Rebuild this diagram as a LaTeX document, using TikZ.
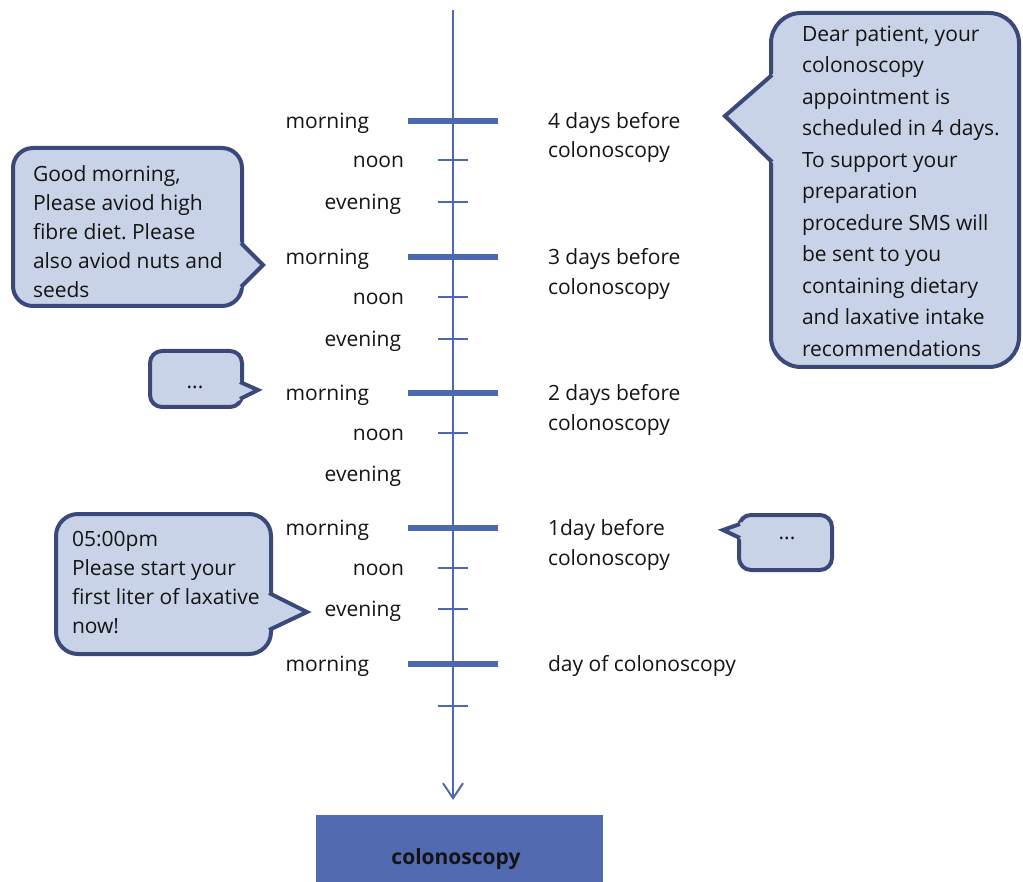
\documentclass[tikz,border=0pt]{standalone}
\usepackage{fontspec}
\setmainfont{Open Sans}
\usetikzlibrary{arrows.meta}
\definecolor{tlblue}{RGB}{76,104,174}
\definecolor{bfill}{RGB}{201,211,232}
\definecolor{bline}{RGB}{58,73,122}
\definecolor{boxblue}{RGB}{82,106,175}
\definecolor{txt}{RGB}{20,20,20}
\frenchspacing
\begin{document}
\begin{tikzpicture}[x=1pt,y=-1pt,
  every node/.style={inner sep=0pt, outer sep=0pt, text=txt, font=\fontsize{21}{29}\selectfont},
  tlline/.style={draw=tlblue, line width=2pt},
  majortick/.style={draw=tlblue, line width=6pt},
  minortick/.style={draw=tlblue, line width=2pt},
  lefttxt/.style={anchor=mid east, yshift=-5pt},
  righttxt/.style={anchor=mid west, yshift=-5pt},
  bubble/.style={draw=bline, fill=bfill, line width=4pt, anchor=north west},
  ptrfill/.style={fill=bfill},
  ptrline/.style={draw=bline, line width=4pt, line join=miter},
  msg/.style={anchor=north west, align=left},
]
\useasboundingbox (0,0) rectangle (1023,882);

% time line
\coordinate (top) at (453,10);
\coordinate (end) at (453,800);
\draw[tlline, -{Straight Barb[length=15pt, width=20pt, line width=2pt]}] (top) -- (end);

% major ticks
\foreach \y/\n in {121/a,257/b,393/c,528/d,664/e}{
  \coordinate (M\n l) at (408,\y);
  \coordinate (M\n r) at (498,\y);
  \draw[majortick] (M\n l) -- (M\n r);
}
% minor ticks
\foreach \y/\n in {160/a,202/b,297/c,339/d,433/e,568/f,609/g,706/h}{
  \coordinate (m\n l) at (438,\y);
  \coordinate (m\n r) at (468,\y);
  \draw[minortick] (m\n l) -- (m\n r);
}

% left labels
\node[lefttxt] (mo1) at (369,121) {morning};
\node[lefttxt] (no1) at (404,160) {noon};
\node[lefttxt] (ev1) at (401,202) {evening};
\node[lefttxt] (mo2) at (369,257) {morning};
\node[lefttxt] (no2) at (404,297) {noon};
\node[lefttxt] (ev2) at (401,339) {evening};
\node[lefttxt] (mo3) at (369,393) {morning};
\node[lefttxt] (no3) at (404,433) {noon};
\node[lefttxt] (ev3) at (401,474) {evening};
\node[lefttxt] (mo4) at (369,528) {morning};
\node[lefttxt] (no4) at (404,568) {noon};
\node[lefttxt] (ev4) at (401,609) {evening};
\node[lefttxt] (mo5) at (369,664) {morning};

% right labels
\node[righttxt] (d4a) at (548,121) {4 days before};
\node[righttxt] (d4b) at (548,150) {colonoscopy};
\node[righttxt] (d3a) at (548,257) {3 days before};
\node[righttxt] (d3b) at (548,287) {colonoscopy};
\node[righttxt] (d2a) at (548,393) {2 days before};
\node[righttxt] (d2b) at (548,423) {colonoscopy};
\node[righttxt] (d1a) at (548,528) {1day before};
\node[righttxt] (d1b) at (548,558) {colonoscopy};
\node[righttxt] (d0) at (548,664) {day of colonoscopy};

% bubble 1 (left, good morning)
\node[bubble, rounded corners=20pt, minimum width=229pt, minimum height=158pt] (bub1) at (13,148) {};
\fill[ptrfill] (239,241) -- (263,265) -- (239,289) -- cycle;
\draw[ptrline] (241,243) -- (263,265) -- (241,287);
\node[msg] (t1) at (33,166) {Good morning,\\Please aviod high\\fibre diet. Please\\also aviod nuts and\\seeds};

% big bubble (right)
\node[bubble, rounded corners=30pt, minimum width=248pt, minimum height=354pt] (bub2) at (771,13) {};
\fill[ptrfill] (774,73) -- (725,116) -- (774,164) -- cycle;
\draw[ptrline] (772,75) -- (725,116) -- (772,162);
\node[msg, font=\fontsize{21}{31.5}\selectfont] (t2) at (802,26) {Dear patient, your\\colonoscopy\\appointment is\\scheduled in 4 days.\\To support your\\preparation\\procedure SMS will\\be sent to you\\containing dietary\\and laxative intake\\recommendations};

% dots bubble left
\node[bubble, rounded corners=12pt, minimum width=92pt, minimum height=56pt] (bub3) at (150,351) {};
\fill[ptrfill] (238,380) -- (258,390) -- (238,401) -- cycle;
\draw[ptrline] (240,382) -- (258,390) -- (240,399);
\node (t3) at (195,387) {...};

% bubble 4 (05:00pm)
\node[bubble, rounded corners=22pt, minimum width=215pt, minimum height=140pt] (bub4) at (56,514) {};
\fill[ptrfill] (267,591) -- (307,612) -- (267,632) -- cycle;
\draw[ptrline] (269,593) -- (307,612) -- (269,630);
\node[msg] (t4) at (72,531) {05:00pm\\Please start your\\first liter of laxative\\now!};

% dots bubble right
\node[bubble, rounded corners=12pt, minimum width=93pt, minimum height=55pt] (bub5) at (739,515) {};
\fill[ptrfill] (742,522) -- (723,530) -- (742,540) -- cycle;
\draw[ptrline] (740,524) -- (723,530) -- (740,538);
\node (t5) at (787,538) {...};

% colonoscopy box
\node[fill=boxblue, minimum width=287pt, minimum height=67pt, anchor=north west] (box) at (316,815) {};
\node[font=\fontsize{21}{24}\selectfont\bfseries] (boxt) at (456,859) {colonoscopy};
\end{tikzpicture}
\end{document}
